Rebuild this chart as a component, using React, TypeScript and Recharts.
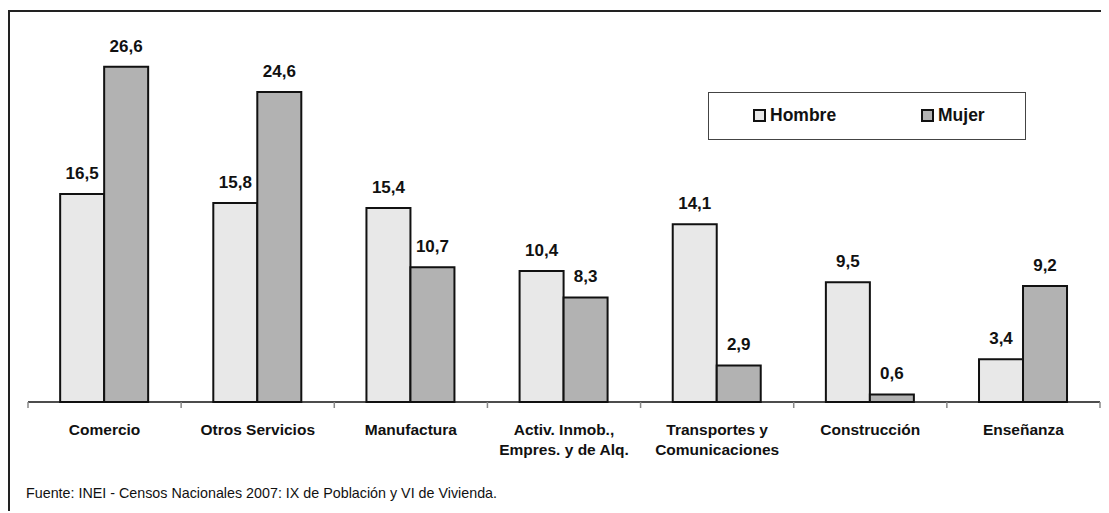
import { Bar, BarChart, LabelList, XAxis, YAxis } from "recharts";

const categories = [
  "Comercio",
  "Otros Servicios",
  "Manufactura",
  "Activ. Inmob.,\nEmpres. y de Alq.",
  "Transportes y\nComunicaciones",
  "Construcción",
  "Enseñanza",
];
const hombre = [16.5, 15.8, 15.4, 10.4, 14.1, 9.5, 3.4];
const mujer = [26.6, 24.6, 10.7, 8.3, 2.9, 0.6, 9.2];
const seriesNames = ["Hombre", "Mujer"];
const seriesColors = ["#e8e8e8", "#b2b2b2"];

const FONT = "'Liberation Sans', Arial, sans-serif";
const W = 1099;
const H = 501;
const M = { top: 12, right: 9, left: 18, bottom: 50 };
const step = (W - M.left - M.right) / categories.length;

const data = categories.map((c, i) => ({ cat: c, Hombre: hombre[i], Mujer: mujer[i] }));

const fmt = (v: any) => String(v).replace(".", ",");

const CatTick = (props: any) => {
  const { x, y, payload, index } = props;
  const lines = String(payload.value).split("\n");
  const left = x - step / 2;
  return (
    <g>
      <line x1={left} y1={y} x2={left} y2={y + 6} stroke="#888" strokeWidth={1.5} />
      {index === categories.length - 1 && (
        <line x1={x + step / 2} y1={y} x2={x + step / 2} y2={y + 6} stroke="#888" strokeWidth={1.5} />
      )}
      <text x={x} y={y + 33} textAnchor="middle" fontFamily={FONT} fontWeight="bold" fontSize={15.5} fill="#111">
        {lines.map((l, i) => (
          <tspan key={i} x={x} dy={i === 0 ? 0 : 20}>
            {l}
          </tspan>
        ))}
      </text>
    </g>
  );
};

const LegendBox = () => {
  const offsets = [44, 212];
  return (
    <div
      style={{
        position: "absolute",
        left: 698,
        top: 80,
        width: 316,
        height: 46,
        border: "1.5px solid #444",
        background: "#fff",
        fontFamily: FONT,
        fontWeight: "bold",
        fontSize: 17.5,
        color: "#111",
      }}
    >
      {seriesNames.map((name, i) => (
        <div
          key={name}
          style={{ position: "absolute", left: offsets[i], top: 12, display: "flex", alignItems: "center" }}
        >
          <span
            style={{
              display: "inline-block",
              width: 9,
              height: 9,
              border: "2px solid #111",
              background: seriesColors[i],
              marginRight: 4,
            }}
          />
          <span>{name}</span>
        </div>
      ))}
    </div>
  );
};

export default function App() {
  const labelStyle = { fontFamily: FONT, fontWeight: "bold", fontSize: 17, fill: "#111" };
  return (
    <div
      style={{
        position: "relative",
        top: 2,
        width: W,
        height: H,
        borderTop: "2px solid #222",
        borderLeft: "2px solid #222",
        background: "#fff",
        fontFamily: FONT,
      }}
    >
      <BarChart width={W} height={H} data={data} margin={M} barCategoryGap="21%" barGap={0}>
        <XAxis
          dataKey="cat"
          interval={0}
          tickSize={0}
          tickMargin={0}
          height={61}
          axisLine={{ stroke: "#111", strokeWidth: 1.5 }}
          tick={<CatTick />}
        />
        <YAxis hide domain={[0, 30]} width={0} />
        <Bar dataKey="Hombre" fill={seriesColors[0]} stroke="#111" strokeWidth={2} isAnimationActive={false}>
          <LabelList dataKey="Hombre" position="top" offset={15} formatter={fmt} style={labelStyle} />
        </Bar>
        <Bar dataKey="Mujer" fill={seriesColors[1]} stroke="#111" strokeWidth={2} isAnimationActive={false}>
          <LabelList dataKey="Mujer" position="top" offset={15} formatter={fmt} style={labelStyle} />
        </Bar>
      </BarChart>
      <LegendBox />
      <div
        style={{
          position: "absolute",
          left: 16,
          top: 473,
          fontFamily: FONT,
          fontSize: 14.3,
          color: "#111",
          whiteSpace: "nowrap",
        }}
      >
        Fuente: INEI - Censos Nacionales 2007: IX de Población y VI de Vivienda.
      </div>
    </div>
  );
}
